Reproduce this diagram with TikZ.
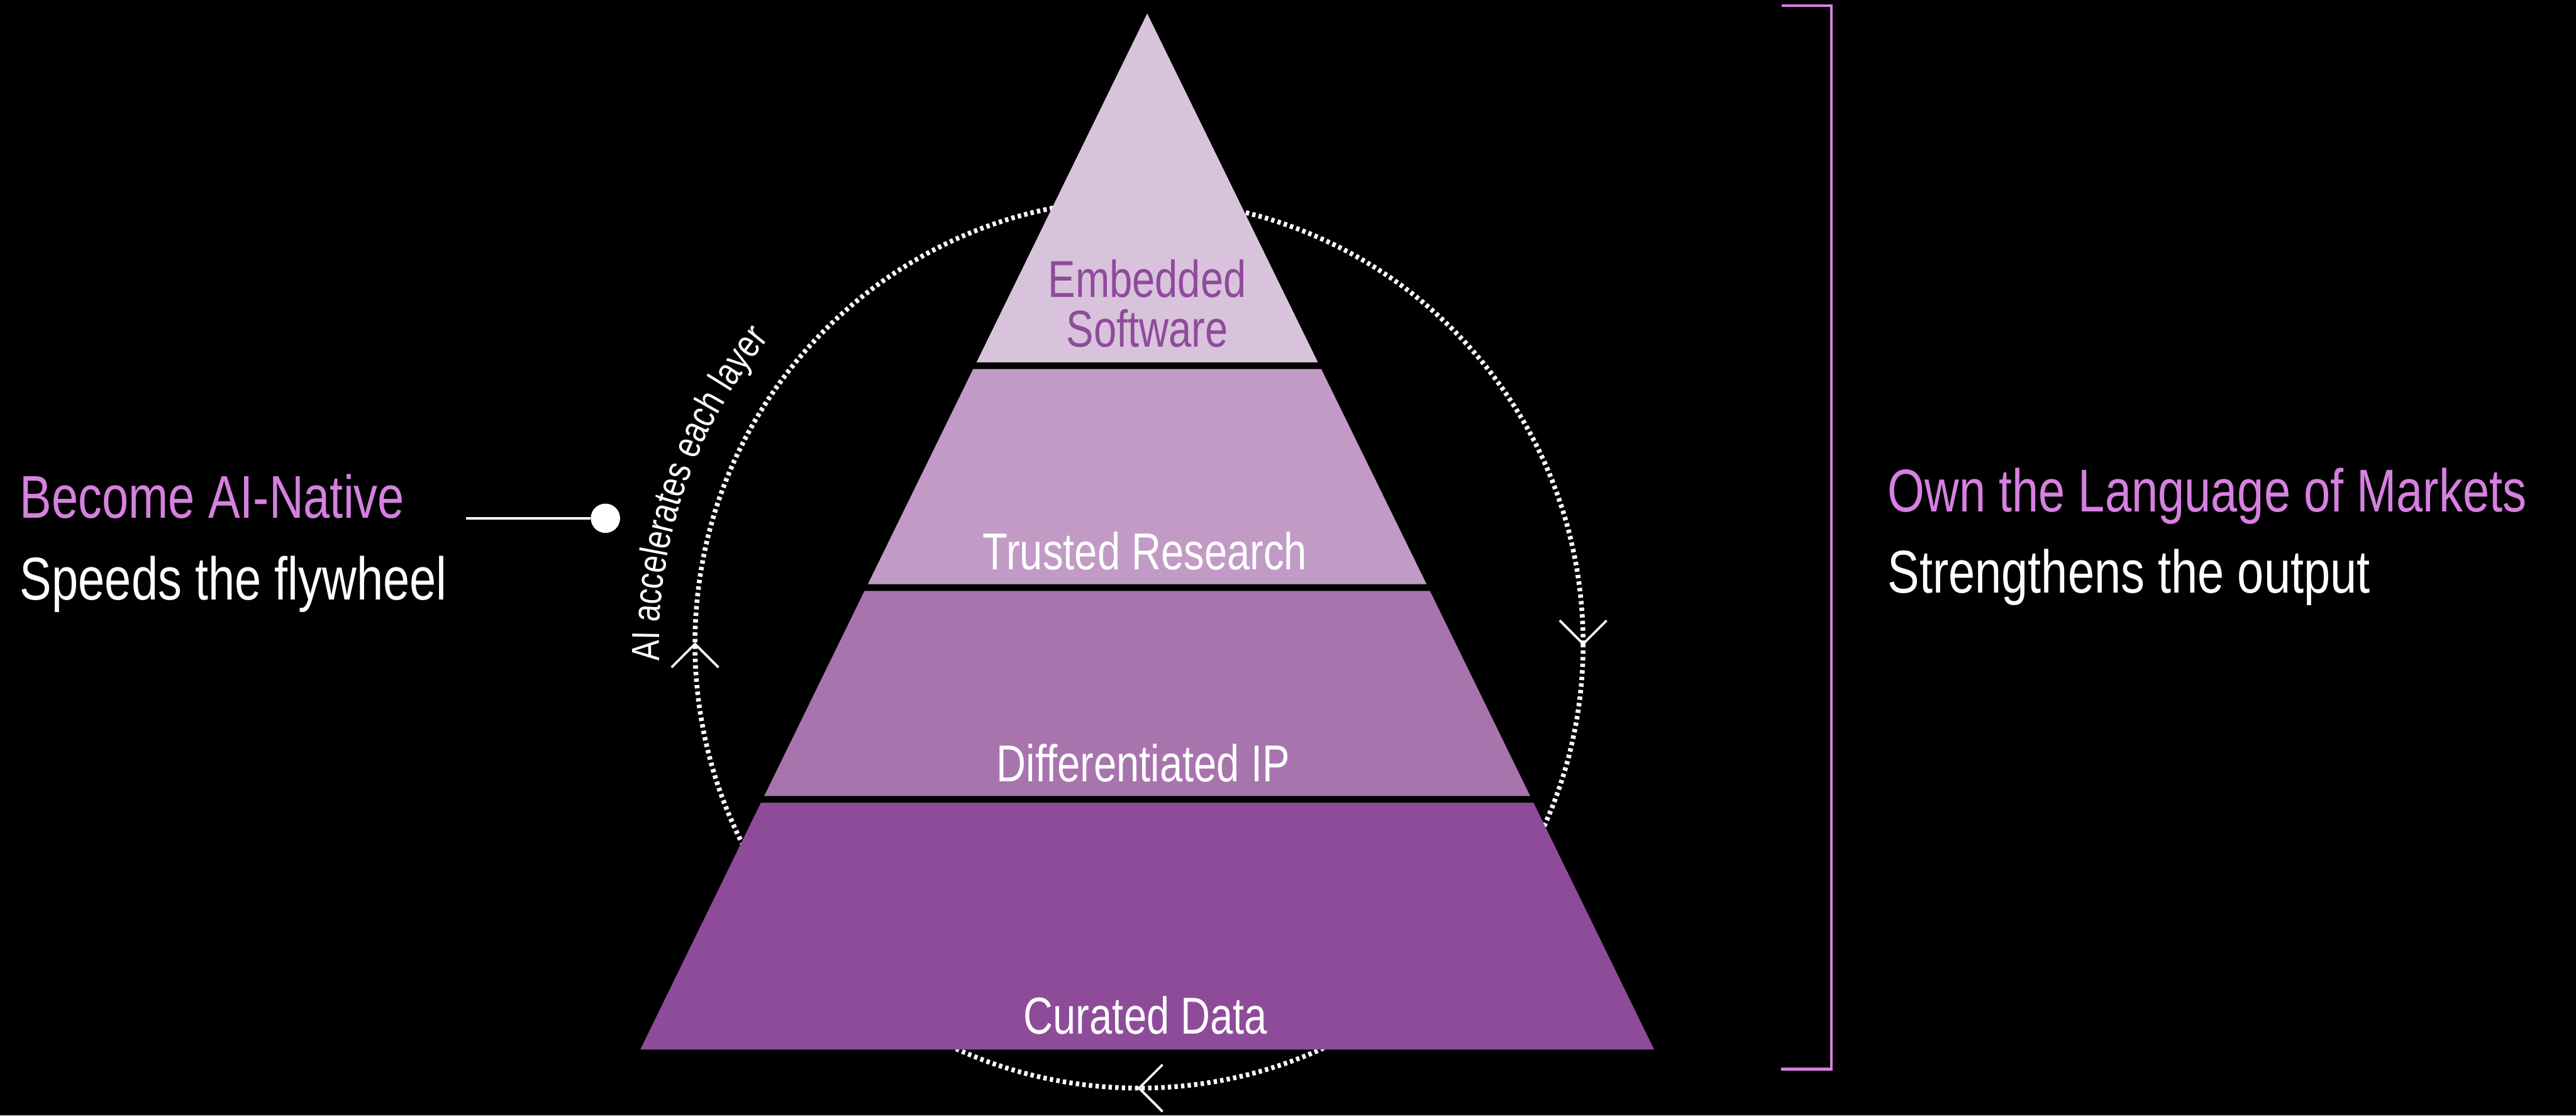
\documentclass[tikz,border=0pt]{standalone}
\usepackage{fontspec}
\setmainfont{Liberation Sans}[FakeStretch=0.79]
\usepackage{tikz}
\usetikzlibrary{calc, decorations.text}

\definecolor{tierA}{RGB}{217,195,220}
\definecolor{tierB}{RGB}{193,155,198}
\definecolor{tierC}{RGB}{168,116,174}
\definecolor{tierD}{RGB}{142,75,154}
\definecolor{orchid}{RGB}{214,128,224}

\begin{document}
\begin{tikzpicture}[
  lbl/.style={font=\fontsize{26.2}{25}\selectfont, text=white, inner sep=0, align=center, anchor=base},
  head/.style={font=\fontsize{30.5}{36}\selectfont, text=orchid, inner sep=0, anchor=base west},
  sub/.style={font=\fontsize{30.5}{36}\selectfont, text=white, inner sep=0, anchor=base west},
  ring/.style={white, line width=0.85mm, dash pattern=on 0.6mm off 0.57mm},
  chev/.style={white, line width=0.4mm},
  dot/.style={circle, fill=white, minimum size=5.2mm, inner sep=0},
  lead/.style={white, line width=0.4mm},
  brk/.style={orchid, line width=0.5mm}]
\fill[black] (0, 0) rectangle (45.74, 19.80);
\useasboundingbox (0, 0) rectangle (45.74, 19.80);

% flywheel ring, drawn first so the pyramid sits on top
\coordinate (hub) at (20.225, 8.37);
\draw[ring] (hub) circle[radius=7.885];
\foreach \a in {0, 180, 270}
  \draw[chev] ($(hub)+(\a:7.885)+(\a+45:0.59)$) -- ($(hub)+(\a:7.885)$) -- ($(hub)+(\a:7.885)+(\a+135:0.59)$);
\path[decorate, decoration={text along path, text align=left,
    text={|\color{white}\fontsize{19.8}{22}\selectfont|AI accelerates each layer}}]
  ($(hub)+(182:8.52)$) arc[start angle=182, end angle=120, radius=8.52];

% pyramid tiers, top to bottom
\fill[tierA] (20.37, 19.56) -- (17.34, 13.37) -- (23.40, 13.37) -- cycle;
\fill[tierB] (17.28, 13.25) -- (23.46, 13.25) -- (25.33, 9.43) -- (15.41, 9.43) -- cycle;
\fill[tierC] (15.35, 9.31) -- (25.39, 9.31) -- (27.17, 5.67) -- (13.57, 5.67) -- cycle;
\fill[tierD] (13.51, 5.55) -- (27.23, 5.55) -- (29.37, 1.17) -- (11.37, 1.17) -- cycle;

% base anchor sits on the last line
\node[lbl, text=tierD] (soft) at (20.37, 13.64) {Embedded\\Software};
\node[lbl] (research) at (20.33, 9.69) {Trusted Research};
\node[lbl] (ip) at (20.30, 5.93) {Differentiated IP};
\node[lbl] (data) at (20.34, 1.45) {Curated Data};

% left call-out
\node[head] (native) at (0.35, 10.60) {Become AI-Native};
\node[sub] (speeds) at (0.35, 9.15) {Speeds the flywheel};
\coordinate (leadStart) at (8.28, 10.60);
\node[dot] (aiDot) at (10.75, 10.60) {};
\draw[lead] (leadStart) -- (aiDot);

% right bracket and call-out
\coordinate (brkTop) at (31.64, 19.70);
\coordinate (brkBot) at (31.63, 0.82);
\draw[brk] (brkTop) -| (32.52, 0.82) -- (brkBot);
\node[head] (markets) at (33.51, 10.71) {Own the Language of Markets};
\node[sub] (output) at (33.51, 9.27) {Strengthens the output};
\end{tikzpicture}
\end{document}
